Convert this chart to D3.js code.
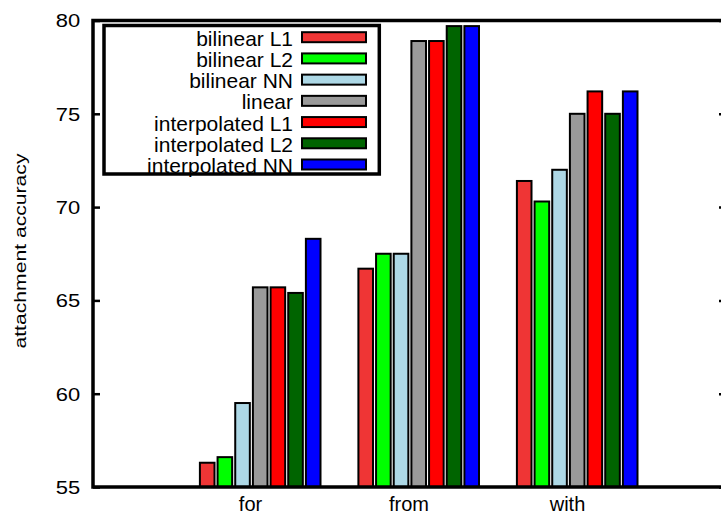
<!DOCTYPE html>
<html>
<head>
<meta charset="utf-8">
<script src="https://cdn.jsdelivr.net/npm/d3@7"></script>
<style>
  body { margin: 0; background: #fff; }
  svg { display: block; }
  text { font-family: "Liberation Sans", Arial, Helvetica, sans-serif; fill: #000; }
</style>
</head>
<body>
<svg id="chart" width="721" height="515"></svg>
<script>
const categories = ["for", "from", "with"];
const series = ["bilinear L1", "bilinear L2", "bilinear NN", "linear",
                "interpolated L1", "interpolated L2", "interpolated NN"];
const colors = ["#ef3535", "#00ff00", "#add8e6", "#9a9a9a", "#ff0000", "#006400", "#0000ff"];
// values[category][series]
const values = [
    [56.3, 56.6, 59.5, 65.7, 65.7, 65.4, 68.3],
    [66.7, 67.5, 67.5, 78.9, 78.9, 79.7, 79.7],
    [71.4, 70.3, 72.0, 75.0, 76.2, 75.0, 76.2]
];
const yTicks = [55, 60, 65, 70, 75, 80];

const svg = d3.select("#chart");
const plotLeft = 93, plotRight = 727, plotTop = 20.5, plotBottom = 487;

// category index 0..4 spans the frame, categories sit at 1, 2, 3
const x = d3.scaleLinear().domain([0, 4]).range([plotLeft, plotRight]);
const y = d3.scaleLinear().domain([55, 80]).range([plotBottom, plotTop]);

// bars of a cluster are shifted a bit right of the tick
const inner = d3.scaleBand().domain(series).range([-52.6, 70.0]).paddingInner(0.06);

const groups = svg.append("g")
    .selectAll("g")
    .data(categories)
    .enter().append("g")
    .attr("transform", (d, i) => `translate(${x(i + 1)},0)`);

groups.selectAll("rect")
    .data((d, i) => values[i].map((v, j) => ({ v, j })))
    .enter().append("rect")
    .attr("x", d => inner(series[d.j]) + 1)
    .attr("width", inner.bandwidth() - 2)
    .attr("y", d => y(d.v))
    .attr("height", d => y(55) - y(d.v))
    .attr("fill", d => colors[d.j])
    .attr("stroke", "#000")
    .attr("stroke-width", 2);

// frame
svg.append("rect")
    .attr("x", plotLeft).attr("y", plotTop)
    .attr("width", plotRight - plotLeft).attr("height", plotBottom - plotTop)
    .attr("fill", "none").attr("stroke", "#000").attr("stroke-width", 3.5);

// left axis with inward ticks
const yAxis = svg.append("g")
    .attr("transform", `translate(${plotLeft},0)`)
    .call(d3.axisLeft(y).tickValues(yTicks).tickSizeInner(-7).tickSizeOuter(0).tickPadding(10.5));
yAxis.select(".domain").remove();
yAxis.selectAll("line").attr("stroke", "#000").attr("stroke-width", 2.5);
yAxis.selectAll("text")
    .attr("font-size", 18)
    .attr("font-family", "Liberation Sans, Arial, sans-serif")
    .attr("transform", "scale(1.22,1)")
    .attr("dy", "0.36em");

// mirrored ticks on the right
const yAxisR = svg.append("g")
    .attr("transform", `translate(${plotRight},0)`)
    .call(d3.axisRight(y).tickValues(yTicks).tickSizeInner(-8).tickSizeOuter(0).tickFormat(""));
yAxisR.select(".domain").remove();
yAxisR.selectAll("line").attr("stroke", "#000").attr("stroke-width", 2.5);

// category labels
svg.append("g")
    .selectAll("text")
    .data(categories)
    .enter().append("text")
    .attr("x", (d, i) => x(i + 1) - 1)
    .attr("y", 511)
    .attr("text-anchor", "middle")
    .attr("font-size", 20)
    .text(d => d);

// y label
svg.append("text")
    .attr("transform", "translate(26,251) rotate(-90)")
    .attr("text-anchor", "middle")
    .attr("font-size", 16.5)
    .attr("textLength", 195)
    .attr("lengthAdjust", "spacingAndGlyphs")
    .text("attachment accuracy");

// legend
const legend = svg.append("g");
legend.append("rect")
    .attr("x", 104).attr("y", 25.5)
    .attr("width", 275.3).attr("height", 148.5)
    .attr("fill", "#fff").attr("stroke", "#000").attr("stroke-width", 3.5);

const rowY = d3.scaleLinear().domain([0, series.length - 1]).range([37.2, 164.5]);
const rows = legend.selectAll(".row")
    .data(series)
    .enter().append("g")
    .attr("class", "row")
    .attr("transform", (d, i) => `translate(0,${rowY(i)})`);

rows.append("text")
    .attr("transform", "translate(293,8.5) scale(1.05,1)")
    .attr("text-anchor", "end")
    .attr("font-size", 20)
    .text(d => d);

rows.append("rect")
    .attr("x", 302).attr("y", -5)
    .attr("width", 64).attr("height", 10)
    .attr("fill", (d, i) => colors[i])
    .attr("stroke", "#000")
    .attr("stroke-width", 2);
</script>
</body>
</html>
